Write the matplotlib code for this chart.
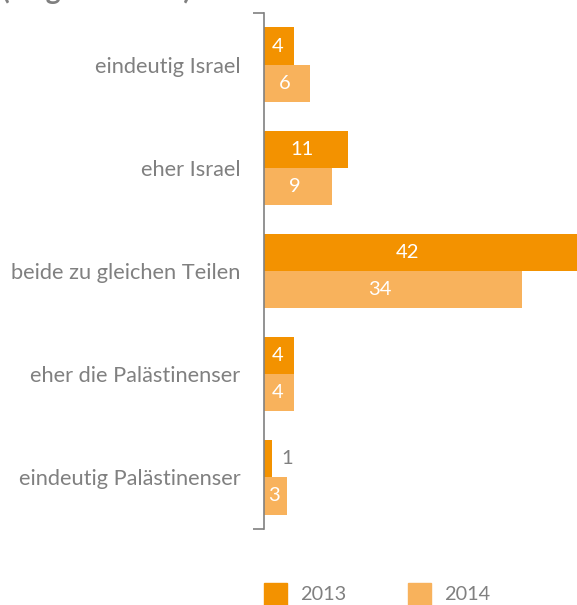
import matplotlib
matplotlib.use("Agg")
import matplotlib.pyplot as plt
import numpy as np

plt.rcParams["font.family"] = ["Lato", "DejaVu Sans"]

categories = [
    "eindeutig Israel",
    "eher Israel",
    "beide zu gleichen Teilen",
    "eher die Palästinenser",
    "eindeutig Palästinenser",
]
values_2013 = [4, 11, 42, 4, 1]
values_2014 = [6, 9, 34, 4, 3]
series_labels = ["2013", "2014"]

DARK = "#F39200"
LIGHT = "#F8B25C"
GREY = "#808080"

W, H = 577, 605
fig = plt.figure(figsize=(W / 100, H / 100), dpi=100)
ax = fig.add_axes([264 / W, (H - 529) / H, (W - 264) / W, 516 / H])

pos = np.arange(len(categories))
bh = 0.36

ax.barh(pos - bh / 2, values_2013, height=bh, color=DARK)
ax.barh(pos + bh / 2, values_2014, height=bh, color=LIGHT)

# value labels: white inside the bar, grey next to it when the bar is too thin
for y, vals in ((pos - bh / 2, values_2013), (pos + bh / 2, values_2014)):
    for yi, v in zip(y, vals):
        if v >= 2:
            ax.text(v * 0.45, yi, str(v), color="white", fontsize=14.5,
                    ha="center", va="center")
        else:
            ax.text(v + 2.0, yi, str(v), color=GREY, fontsize=14.5,
                    ha="center", va="center")

ax.set_xlim(0, (W - 264) / 7.6)
ax.set_ylim(len(categories) - 0.5, -0.5)

for s in ("top", "right", "bottom"):
    ax.spines[s].set_visible(False)
ax.spines["left"].set_color(GREY)
ax.spines["left"].set_linewidth(1.2)
ax.set_xticks([])

ax.set_yticks([-0.5, len(categories) - 0.5])
ax.set_yticklabels(["", ""])
ax.tick_params(axis="y", which="major", length=8, width=1.2, color=GREY)
ax.set_yticks(pos, minor=True)
ax.set_yticklabels(categories, minor=True)
ax.tick_params(axis="y", which="minor", length=0, pad=17, labelsize=15.7,
               labelcolor=GREY)

# heading, mostly above the top edge
fig.text(2 / W, 1 + 1 / H, "(Angaben in %)", fontsize=20.5, fontweight="bold",
         color=GREY, ha="left", va="baseline")

# legend
for x0, col, lab in ((264, DARK, series_labels[0]), (408, LIGHT, series_labels[1])):
    fig.patches.append(plt.Rectangle((x0 / W, 0), 23 / W, 22 / H,
                                     transform=fig.transFigure, color=col))
    fig.text((x0 + 36) / W, 10 / H, lab, fontsize=14.3, color=GREY,
             ha="left", va="center")

fig.savefig("out.png", dpi=100)
